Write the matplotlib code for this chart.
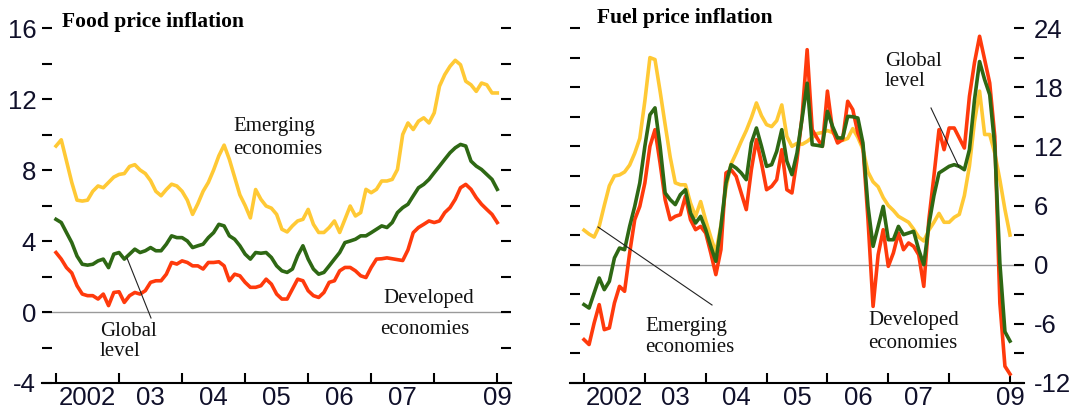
import numpy as np
import matplotlib
matplotlib.use("Agg")
import matplotlib.pyplot as plt
from matplotlib.lines import Line2D

W, H = 1075, 412

# monthly observations, Jan 2002 .. Jan 2009
months = 2002 + np.arange(85) / 12.0

food_emerging = [9.35, 9.7, 8.5, 7.3, 6.3, 6.25, 6.3, 6.8, 7.1, 7.0, 7.3, 7.6, 7.75, 7.8, 8.2, 8.3, 8.0,
                 7.8, 7.4, 6.8, 6.55, 6.9, 7.2, 7.1, 6.8, 6.3, 5.5, 6.1, 6.8, 7.3, 8.0, 8.8, 9.4, 8.6,
                 7.6, 6.6, 6.0, 5.3, 6.9, 6.35, 5.97, 5.85,
                 5.5, 4.66, 4.51, 4.85, 5.13, 5.22, 5.78, 4.94, 4.48, 4.48, 4.76, 5.13, 4.48, 5.22,
                 5.97, 5.41, 5.6, 6.91, 6.72, 6.91, 7.38, 7.38, 7.47, 8.03, 10.0, 10.65, 10.28, 10.75,
                 10.94, 10.65, 11.22, 12.72, 13.37, 13.84, 14.18, 13.93, 13.0, 12.8, 12.43, 12.9, 12.8,
                 12.34, 12.34]
food_global = [5.22, 5.04, 4.47, 3.91, 3.15, 2.69, 2.64, 2.69, 2.88, 2.98, 2.5, 3.26, 3.35, 2.98, 3.26,
               3.54, 3.35, 3.45, 3.63, 3.45, 3.45, 3.82, 4.29, 4.19, 4.19, 4.0, 3.63, 3.73, 3.82, 4.19,
               4.47, 4.94, 4.85, 4.29, 4.1, 3.73, 3.26, 2.98, 3.35, 3.31, 3.35, 3.07, 2.6,
               2.32, 2.23, 2.42, 3.17, 3.73, 2.98, 2.42, 2.13, 2.23, 2.6, 2.98, 3.35, 3.91, 4.0, 4.1,
               4.29, 4.29, 4.47, 4.66, 4.85, 4.76, 5.04, 5.6, 5.88, 6.07, 6.54, 7.0, 7.19, 7.47, 7.85,
               8.22, 8.6, 8.97, 9.25, 9.44, 9.35, 8.5, 8.22, 8.03, 7.75, 7.47, 6.91]
food_developed = [3.35, 2.98, 2.5, 2.2, 1.48, 1.01, 0.92, 0.92, 0.73, 1.01, 0.36, 1.1, 1.14, 0.54, 0.92,
                  1.1, 1.01, 1.2, 1.67, 1.76, 1.76, 2.13, 2.79, 2.7, 2.88, 2.79, 2.6, 2.6, 2.42, 2.79,
                  2.79, 2.83, 2.6, 1.76, 2.13, 2.04, 1.67, 1.39, 1.39, 1.48, 1.85, 1.57, 1.01,
                  0.73, 0.73, 1.29, 1.85, 1.76, 1.2, 0.92, 0.82, 1.1, 1.67, 1.76, 2.32, 2.51, 2.51, 2.32,
                  2.04, 1.94, 2.51, 2.98, 3.0, 3.05, 3.0, 2.95, 2.9, 3.5, 4.47, 4.76, 4.94, 5.13, 5.04,
                  5.13, 5.6, 5.88, 6.35, 7.0, 7.19, 6.91, 6.44, 6.07, 5.78, 5.5, 5.04]

fuel_emerging = [3.5, 3.1, 2.8, 3.9, 6.0, 8.0, 9.0, 9.1, 9.4, 10.1, 11.3, 12.8, 16.6, 21.0, 20.8, 17.6,
                 14.2, 10.9, 8.3, 8.1, 8.1, 6.25, 4.9, 6.4, 4.5, 2.8, 1.2, 4.0, 7.8, 10.2, 11.3, 12.5,
                 13.6, 14.9, 16.4, 15.1, 14.2, 14.0, 14.6, 16.2,
                 13.0, 12.0, 12.3, 12.2, 12.5, 12.9, 13.3, 13.4, 13.6, 13.4, 12.9, 12.6, 12.8, 13.8,
                 12.9, 11.7, 9.4, 8.4, 7.9, 6.8, 6.0, 5.5, 4.9, 4.6, 4.3, 3.6, 2.8, 2.4, 3.5, 4.3, 5.2,
                 4.3, 4.3, 4.8, 5.1, 7.0, 10.0, 14.5, 17.6, 13.2, 13.2, 11.3, 8.6, 5.6, 3.0]
fuel_global = [-4.05, -4.4, -2.87, -1.35, -2.53, -1.69, 0.68, 1.69, 1.52, 3.88, 5.91, 8.28, 12.0, 15.2,
               15.9, 12.0, 7.27, 6.59, 6.09, 7.1, 7.6, 5.24, 4.22, 4.9, 3.55, 1.86, 0.34, 3.88, 8.28,
               10.14, 9.8, 9.3, 8.62, 12.34, 13.86, 12.0, 9.97, 10.14, 11.49, 13.69, 10.5, 9.13,
               11.33, 14.8, 18.4, 12.17, 12.1, 12.0, 15.55, 14.03, 12.85, 12.85, 15.04, 15.0, 14.87,
               12.34, 5.91, 1.86, 3.88, 5.91, 2.53, 2.53, 3.88, 3.04, 3.21, 3.38, 1.52, 0.0, 4.05, 7.0,
               9.3, 9.63, 9.97, 10.14, 9.97, 9.63, 11.66, 16.73, 20.6, 18.76, 17.24, 12.0, 0.17, -6.8,
               -7.75]
fuel_developed = [-7.6, -8.1, -5.92, -4.05, -6.59, -6.42, -3.89, -2.2, -2.7, 1.18, 4.56, 5.91, 8.28, 12.0,
                  13.69, 10.3, 6.59, 4.56, 4.9, 5.07, 6.93, 4.56, 3.55, 3.88, 3.2, 1.18, -1.01, 1.52,
                  9.3, 9.63, 8.96, 7.27, 5.58, 9.63, 12.68, 10.3, 7.6, 7.94, 8.62, 11.66, 7.6, 7.27,
                  10.65, 15.0, 21.8, 13.69, 12.8, 12.0, 17.6, 13.69, 12.34, 12.68, 16.57, 15.72, 13.35,
                  12.0, 4.56, -4.23, 1.0, 3.55, -0.17, 1.18, 3.21, 1.52, 2.2, 1.86, 1.0, -2.2, 4.56, 9.0,
                  13.69, 11.66, 13.86, 13.86, 12.85, 11.83, 17.07, 20.5, 23.16, 20.8, 18.42, 13.0,
                  -3.89, -10.3, -11.1]

year_ticks = list(range(2002, 2010))
label_pos = [2002.5, 2003.5, 2004.5, 2005.5, 2006.5, 2007.5, 2009.0]
label_txt = ["2002", "03", "04", "05", "06", "07", "09"]

YELLOW = "#FFC935"
RED = "#FF3A0C"
GREEN = "#2E6814"
SERIF = "Liberation Serif"
SANS = "Liberation Sans"


def px(x, y):  # pixel position -> figure fraction
    return x / W, 1 - y / H


def style(ax, ylim, major, minor, side):
    ax.xaxis.remove_overlapping_locs = False  # keep the "09" label on the 2009 tick
    ax.set_ylim(*ylim)
    ax.set_yticks(major)
    ax.set_yticks(minor, minor=True)
    ax.set_yticklabels([str(v) for v in major], fontfamily=SANS, fontsize=18.5)
    ax.set_xticks(year_ticks)
    ax.set_xticklabels([])
    ax.set_xticks(label_pos, minor=True)
    ax.set_xticklabels(label_txt, minor=True, fontfamily=SANS, fontsize=18.5)
    ax.tick_params(axis="x", which="major", direction="in", length=7, width=1.5, color="black")
    ax.tick_params(axis="x", which="minor", length=0, pad=2, labelcolor="#10102a")
    ax.tick_params(axis="y", which="both", direction="in", length=7, width=1.5, left=True, right=True,
                   labelleft=(side == "left"), labelright=(side == "right"),
                   pad=(4 if side == "left" else 7), labelcolor="#10102a")
    for s in ["left", "right", "top"]:
        ax.spines[s].set_visible(False)
    ax.spines["bottom"].set_linewidth(1.5)
    ax.axhline(0, color="#9a9a9a", lw=1, zorder=1)


fig = plt.figure(figsize=(W / 100, H / 100), dpi=100)

# food panel
ax1 = fig.add_axes([41.7 / W, 29 / H, 469 / W, 355 / H])
ax1.plot(months, food_emerging, color=YELLOW, lw=2.6, zorder=3)
ax1.plot(months, food_developed, color=RED, lw=2.6, zorder=4)
ax1.plot(months, food_global, color=GREEN, lw=2.6, zorder=5)
ax1.set_xlim(2001.773, 2009.213)
style(ax1, (-4, 16), [16, 12, 8, 4, 0, -4], [14, 10, 6, 2, -2], "left")

# fuel panel
ax2 = fig.add_axes([570 / W, 29 / H, 454 / W, 355 / H])
ax2.plot(months, fuel_emerging, color=YELLOW, lw=2.6, zorder=3)
ax2.plot(months, fuel_developed, color=RED, lw=2.6, zorder=4)
ax2.plot(months, fuel_global, color=GREEN, lw=2.6, zorder=5)
ax2.set_xlim(2001.77, 2009.23)
style(ax2, (-12, 24), [24, 18, 12, 6, 0, -6, -12], [21, 15, 9, 3, -3, -9], "right")

# titles and labels
fig.text(*px(62, 22), "Food price inflation", fontfamily=SERIF, fontweight="bold", fontsize=15.5, va="center")
fig.text(*px(597, 18), "Fuel price inflation", fontfamily=SERIF, fontweight="bold", fontsize=15.5, va="center")

notes = [
    (233, 127, "Emerging"), (233, 149, "economies"),
    (383, 299, "Developed"), (380, 330, "economies"),
    (100, 332, "Global"), (100, 352, "level"),
    (885, 62, "Global"), (885, 82, "level"),
    (645, 326, "Emerging"), (645, 347, "economies"),
    (868, 321, "Developed"), (868, 343, "economies"),
]
for x, y, t in notes:
    fig.text(*px(x, y), t, fontfamily=SERIF, fontsize=15, va="center", color="#111111")

# pointer lines
for (x0, y0), (x1, y1) in [((127, 258), (151, 318)), ((931, 108), (959, 167)), ((598, 227), (712, 305))]:
    fig.add_artist(Line2D([x0 / W, x1 / W], [1 - y0 / H, 1 - y1 / H], color="#222222", lw=0.8,
                          transform=fig.transFigure))

fig.savefig("out.png", dpi=100, facecolor="white")
